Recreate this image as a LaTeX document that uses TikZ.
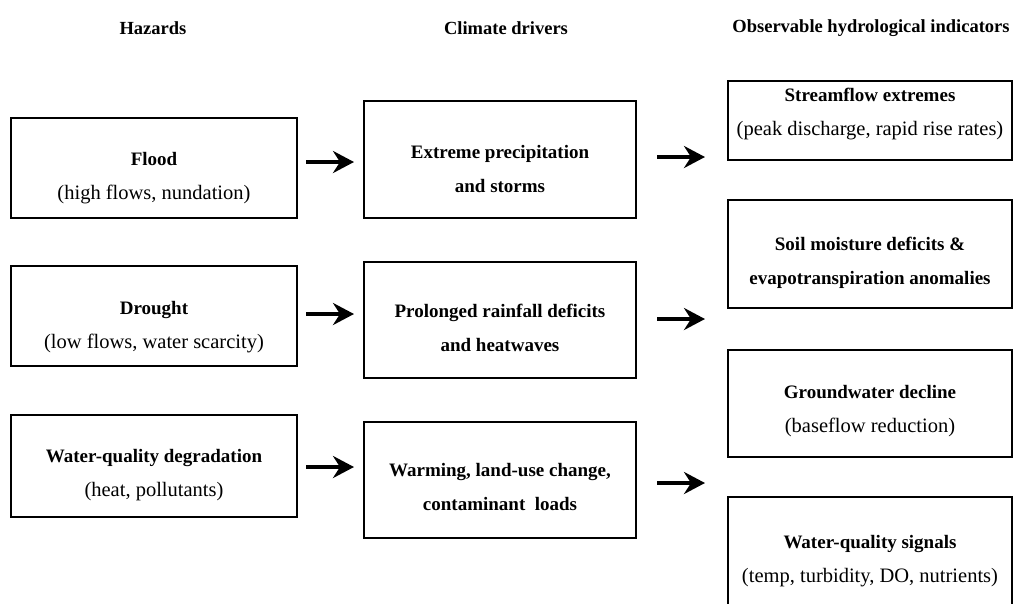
\documentclass[tikz,border=0pt]{standalone}
\usepackage{fontspec}
\setmainfont{Liberation Serif}
\usetikzlibrary{arrows.meta}
\tikzset{
	box/.style={draw, line width=2.6pt, inner sep=0pt},
	txt/.style={align=center, inner sep=0pt, font=\fontsize{20.5}{34}\selectfont},
	head/.style={font=\bfseries\fontsize{18.5}{22}\selectfont},
	arr/.style={line width=4.5pt, -{Stealth[length=21pt,width=22pt,inset=7pt]}}
}
\newcommand{\ttl}[1]{{\bfseries\fontsize{19}{34}\selectfont #1}}
\begin{document}
\begin{tikzpicture}[x=1pt,y=-1pt]
	\clip (0,0) rectangle (1015,603);
	\fill[white] (0,0) rectangle (1015,603);
	% column heads
	\node[head] (hH) at (153,28) {Hazards};
	\node[head] (hC) at (506,28) {Climate drivers};
	\node[head] (hO) at (871,28) {Observable hydrological indicators};
	% hazards
	\node[box, minimum width=286, minimum height=100] (flood) at (154,168) {};
	\node[txt] (flood-t) at (154,178) {\ttl{Flood}\\(high flows, nundation)};
	\node[box, minimum width=286, minimum height=100] (drought) at (154,316) {};
	\node[txt] (drought-t) at (154,327.5) {\ttl{Drought}\\(low flows, water scarcity)};
	\node[box, minimum width=286, minimum height=102] (wq) at (154,466) {};
	\node[txt] (wq-t) at (154,475) {\ttl{Water-quality degradation}\\(heat, pollutants)};
	% drivers
	\node[box, minimum width=272, minimum height=117] (precip) at (500,159.5) {};
	\node[txt] (precip-t) at (500,168.5) {\ttl{Extreme precipitation}\\\ttl{and storms}};
	\node[box, minimum width=272, minimum height=116] (rain) at (500,320) {};
	\node[txt] (rain-t) at (500,328) {\ttl{Prolonged rainfall deficits}\\\ttl{and heatwaves}};
	\node[box, minimum width=272, minimum height=116] (warm) at (500,480) {};
	\node[txt] (warm-t) at (500,487) {\ttl{Warming, land-use change,}\\\ttl{contaminant\ \ loads}};
	% indicators
	\node[box, minimum width=284, minimum height=79] (stream) at (870,120.5) {};
	\node[txt] (stream-t) at (870,114) {\ttl{Streamflow extremes}\\(peak discharge, rapid rise rates)};
	\node[box, minimum width=284, minimum height=108] (soil) at (870,254) {};
	\node[txt] (soil-t) at (870,262.5) {\ttl{Soil moisture deficits \&}\\\ttl{evapotranspiration anomalies}};
	\node[box, minimum width=284, minimum height=107] (gw) at (870,403.5) {};
	\node[txt] (gw-t) at (870,411) {\ttl{Groundwater decline}\\(baseflow reduction)};
	\node[box, minimum width=284, minimum height=122] (wqs) at (870,558) {};
	\node[txt] (wqs-t) at (870,561) {\ttl{Water-quality signals}\\(temp, turbidity, DO, nutrients)};
	% arrows
	\coordinate (a1) at (306,162); \coordinate (b1) at (354,162);
	\coordinate (a2) at (306,314); \coordinate (b2) at (354,314);
	\coordinate (a3) at (306,467); \coordinate (b3) at (354,467);
	\coordinate (c1) at (657,157); \coordinate (d1) at (705,157);
	\coordinate (c2) at (657,319); \coordinate (d2) at (705,319);
	\coordinate (c3) at (657,483); \coordinate (d3) at (705,483);
	\foreach \i in {1,2,3}{
		\draw[arr] (a\i) -- (b\i);
		\draw[arr] (c\i) -- (d\i);
	}
\end{tikzpicture}
\end{document}
